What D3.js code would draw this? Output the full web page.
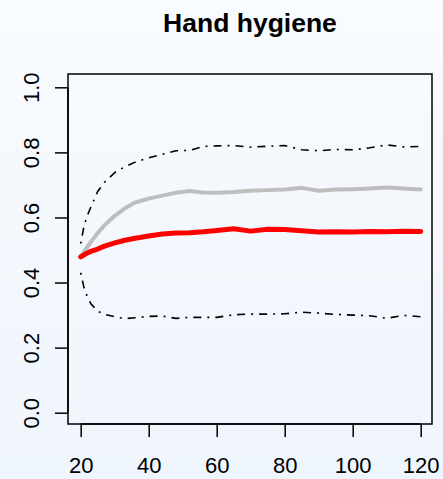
<!DOCTYPE html>
<html>
<head>
<meta charset="utf-8">
<script src="https://cdn.jsdelivr.net/npm/d3@7"></script>
<style>
  html, body { margin: 0; padding: 0; }
  body { width: 443px; height: 479px; overflow: hidden; }
  svg { display: block; font-family: "Liberation Sans", Arial, Helvetica, sans-serif; }
</style>
</head>
<body>
<svg id="chart" width="443" height="479"></svg>
<script>
// Sample size (x) and estimated compliance with its bounds
const sampleSizes = [20, 21, 22, 23, 25, 27, 30, 33, 36, 40, 44, 48, 52, 56, 60, 65, 70, 75, 80, 85, 90, 95, 100, 105, 110, 115, 120];
const meanEstimate = [0.479, 0.485, 0.491, 0.496, 0.503, 0.512, 0.522, 0.530, 0.536, 0.543, 0.549, 0.552, 0.553, 0.556, 0.560, 0.565, 0.558, 0.564, 0.563, 0.559, 0.555, 0.556, 0.555, 0.557, 0.556, 0.558, 0.557];
const altEstimate = [0.479, 0.495, 0.510, 0.525, 0.552, 0.576, 0.605, 0.628, 0.646, 0.658, 0.667, 0.676, 0.681, 0.677, 0.676, 0.678, 0.682, 0.684, 0.686, 0.691, 0.682, 0.686, 0.687, 0.689, 0.692, 0.689, 0.686];
const upperBound = [0.520, 0.575, 0.607, 0.632, 0.680, 0.708, 0.738, 0.756, 0.770, 0.783, 0.794, 0.805, 0.806, 0.818, 0.820, 0.821, 0.816, 0.819, 0.821, 0.808, 0.805, 0.809, 0.808, 0.814, 0.823, 0.817, 0.818];
const lowerBound = [0.430, 0.383, 0.355, 0.335, 0.312, 0.302, 0.295, 0.289, 0.292, 0.296, 0.297, 0.290, 0.293, 0.293, 0.293, 0.301, 0.303, 0.303, 0.304, 0.309, 0.306, 0.302, 0.300, 0.298, 0.290, 0.299, 0.295];
const xTicks = [20, 40, 60, 80, 100, 120];
const yTicks = [0.0, 0.2, 0.4, 0.6, 0.8, 1.0];
const chartTitle = "Hand hygiene";

const W = 443, H = 479;
const svg = d3.select("#chart");

// soft bluish page background
const defs = svg.append("defs");
const grad = defs.append("linearGradient").attr("id", "bg").attr("x1", 0).attr("y1", 0).attr("x2", 0).attr("y2", 1);
grad.append("stop").attr("offset", "0%").attr("stop-color", "#f8fbff");
grad.append("stop").attr("offset", "100%").attr("stop-color", "#eff5fc");
svg.append("rect").attr("width", W).attr("height", H).attr("fill", "url(#bg)");

// plotting region (frame) and scales
const box = { left: 68, right: 432, top: 74, bottom: 424 };
const x = d3.scaleLinear().domain([20, 120]).range([80.7, 420.7]);
const y = d3.scaleLinear().domain([0, 1]).range([412.7, 87.3]);

// title
svg.append("text")
  .attr("x", (box.left + box.right) / 2)
  .attr("y", 31.5)
  .attr("text-anchor", "middle")
  .attr("font-weight", "bold")
  .attr("font-size", 26.5)
  .attr("fill", "#000")
  .text(chartTitle);

// x axis
const xAxis = d3.axisBottom(x).tickValues(xTicks).tickSize(13).tickPadding(20).tickFormat(d3.format("d"));
const gx = svg.append("g").attr("transform", `translate(0,${box.bottom})`).call(xAxis);
gx.select(".domain").attr("d", `M${x(20)},0H${x(120)}`).attr("stroke", "#000").attr("stroke-width", 1.5);
gx.selectAll(".tick line").attr("stroke", "#000").attr("stroke-width", 1.5);
gx.selectAll(".tick text")
  .attr("font-size", 22).attr("fill", "#000")
  .attr("dy", null).attr("y", 49);

// y axis
const yAxis = d3.axisLeft(y).tickValues(yTicks).tickSize(13).tickFormat(d3.format(".1f"));
const gy = svg.append("g").attr("transform", `translate(${box.left},0)`).call(yAxis);
gy.select(".domain").attr("d", `M0,${y(0)}V${y(1)}`).attr("stroke", "#000").attr("stroke-width", 1.5);
gy.selectAll(".tick line").attr("stroke", "#000").attr("stroke-width", 1.5);
gy.selectAll(".tick text")
  .attr("font-size", 22).attr("fill", "#000")
  .attr("x", null).attr("dy", null)
  .attr("text-anchor", "middle")
  .attr("transform", "translate(-29.5,0) rotate(-90)");

// frame around the plotting region
svg.append("rect")
  .attr("x", box.left).attr("y", box.top)
  .attr("width", box.right - box.left).attr("height", box.bottom - box.top)
  .attr("fill", "none").attr("stroke", "#000").attr("stroke-width", 1.5);

const line = vals => d3.line()
  .x((d, i) => x(sampleSizes[i]))
  .y(d => y(d))
  .curve(d3.curveLinear)(vals);

const plot = svg.append("g");

// bounds: black dot-dash
[upperBound, lowerBound].forEach(vals => {
  plot.append("path")
    .attr("d", line(vals))
    .attr("fill", "none")
    .attr("stroke", "#000")
    .attr("stroke-width", 1.6)
    .attr("stroke-dasharray", "2,6,8,6");
});

// alternative estimate: grey
plot.append("path")
  .attr("d", line(altEstimate))
  .attr("fill", "none")
  .attr("stroke", "#bebebe")
  .attr("stroke-width", 4)
  .attr("stroke-linejoin", "round")
  .attr("stroke-linecap", "round");

// mean estimate: red
plot.append("path")
  .attr("d", line(meanEstimate))
  .attr("fill", "none")
  .attr("stroke", "#ff0000")
  .attr("stroke-width", 5)
  .attr("stroke-linejoin", "round")
  .attr("stroke-linecap", "round");
</script>
</body>
</html>
